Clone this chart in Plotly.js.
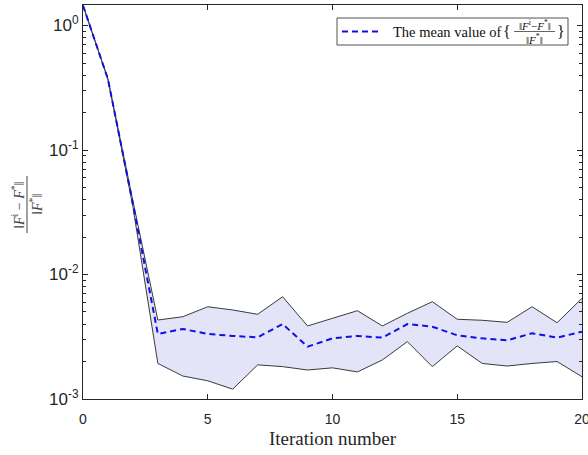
<!DOCTYPE html>
<html>
<head>
<meta charset="utf-8">
<script src="https://cdn.plot.ly/plotly-3.0.1.min.js"></script>
<style>html,body{margin:0;padding:0;background:#fff;}#chart{width:588px;height:455px;}</style>
</head>
<body>
<div id="chart"></div>
<script>
// Iteration numbers
const iterations = [0,1,2,3,4,5,6,7,8,9,10,11,12,13,14,15,16,17,18,19,20];
// Upper envelope of relative error
const upperVals = [1.45,0.371,0.039,0.00431,0.00458,0.00551,0.00519,0.00479,0.00663,0.00386,0.00445,0.00512,0.00386,0.00488,0.00605,0.00437,0.00429,0.00413,0.00551,0.00410,0.00644];
// Lower envelope of relative error
const lowerVals = [1.45,0.371,0.035,0.00193,0.00153,0.00140,0.00120,0.00188,0.00182,0.00171,0.00178,0.00165,0.00206,0.00289,0.00182,0.00267,0.00193,0.00184,0.00193,0.00200,0.00151];
// Mean value
const meanVals = [1.45,0.371,0.037,0.00333,0.00365,0.00333,0.00321,0.00313,0.00400,0.00263,0.00307,0.00321,0.00311,0.00400,0.00381,0.00325,0.00307,0.00296,0.00337,0.00311,0.00347];

const xTickVals = [0,5,10,15,20];
const yTickVals = [0.001,0.01,0.1,1];
const yTickText = ['10<sup>-3</sup>','10<sup>-2</sup>','10<sup>-1</sup>','10<sup>0</sup>'];
const legendLabel = 'The mean value of';

const W = 588, H = 455, L = 83, R = 582, T = 5, B = 399;
const px = v => (v - L) / (R - L);
const py = v => (B - v) / (B - T);

const edge = '#3a3a3a';
const traces = [
  {x: iterations, y: upperVals, type: 'scatter', mode: 'lines', line: {color: edge, width: 1}, showlegend: false, hoverinfo: 'skip'},
  {x: iterations, y: lowerVals, type: 'scatter', mode: 'lines', line: {color: edge, width: 1}, fill: 'tonexty', fillcolor: '#e4e4f8', showlegend: false, hoverinfo: 'skip'},
  {x: iterations, y: meanVals, type: 'scatter', mode: 'lines', line: {color: '#1010e6', width: 2, dash: '6px,4px'}, name: legendLabel, showlegend: false}
];

const serif = 'Liberation Serif, Times New Roman, serif';
const sans = 'Liberation Sans, Arial, sans-serif';
const axisCol = '#262626';
const layout = {
  width: W, height: H,
  margin: {l: L, r: W - R, t: T, b: H - B},
  paper_bgcolor: '#fff', plot_bgcolor: '#fff',
  showlegend: false,
  xaxis: {
    range: [0, 20], tickmode: 'array', tickvals: xTickVals,
    ticks: 'inside', ticklen: 5, tickcolor: axisCol, mirror: 'ticks',
    showline: true, linecolor: axisCol, linewidth: 1,
    showgrid: false, zeroline: false, ticklabeloverflow: 'allow', ticklabelstandoff: 7,
    tickfont: {family: sans, size: 14, color: axisCol},
    title: {text: 'Iteration number', font: {family: serif, size: 19, color: axisCol}, standoff: 5}
  },
  yaxis: {
    type: 'log', range: [-3, 0.165], tickmode: 'array', tickvals: yTickVals, ticktext: yTickText,
    ticks: 'inside', ticklen: 5, tickcolor: axisCol, mirror: 'ticks',
    minor: {dtick: 'D1', ticks: 'inside', ticklen: 3, tickcolor: axisCol, showgrid: false},
    showline: true, linecolor: axisCol, linewidth: 1,
    showgrid: false, zeroline: false, ticklabeloverflow: 'allow',
    tickfont: {family: sans, size: 17, color: axisCol}
  },
  shapes: [
    // y-axis title fraction bar
    {type: 'line', xref: 'paper', yref: 'paper', x0: px(27), x1: px(27), y0: py(233), y1: py(176), line: {color: '#444', width: 1}},
    // legend box
    {type: 'rect', xref: 'paper', yref: 'paper', x0: px(337), x1: px(568), y0: py(45), y1: py(18), fillcolor: '#fff', line: {color: axisCol, width: 0.8}},
    // legend sample
    {type: 'line', xref: 'paper', yref: 'paper', x0: px(342), x1: px(382), y0: py(31.5), y1: py(31.5), line: {color: '#1010e6', width: 2, dash: '6px,4px'}},
    // legend fraction bar
    {type: 'line', xref: 'paper', yref: 'paper', x0: px(514), x1: px(555), y0: py(31.5), y1: py(31.5), line: {color: '#222', width: 0.7}}
  ],
  annotations: [
    {xref: 'paper', yref: 'paper', x: px(18), y: py(205), text: '‖<i>F</i><sup>i</sup> − <i>F</i><sup>*</sup>‖', textangle: -90, showarrow: false, font: {family: serif, size: 14, color: '#444'}, xanchor: 'center', yanchor: 'middle'},
    {xref: 'paper', yref: 'paper', x: px(36), y: py(205), text: '‖<i>F</i><sup>*</sup>‖', textangle: -90, showarrow: false, font: {family: serif, size: 14, color: '#444'}, xanchor: 'center', yanchor: 'middle'},
    {xref: 'paper', yref: 'paper', x: px(391), y: py(31.5), text: legendLabel, showarrow: false, font: {family: serif, size: 14.5, color: '#111'}, xanchor: 'left', yanchor: 'middle'},
    {xref: 'paper', yref: 'paper', x: px(507), y: py(31.5), text: '{', showarrow: false, font: {family: serif, size: 16, color: '#111'}, xanchor: 'center', yanchor: 'middle'},
    {xref: 'paper', yref: 'paper', x: px(534.5), y: py(25), text: '‖<i>F</i><sup>i</sup>−<i>F</i><sup>*</sup>‖', showarrow: false, font: {family: serif, size: 11, color: '#111'}, xanchor: 'center', yanchor: 'middle'},
    {xref: 'paper', yref: 'paper', x: px(534.5), y: py(38.5), text: '‖<i>F</i><sup>*</sup>‖', showarrow: false, font: {family: serif, size: 11, color: '#111'}, xanchor: 'center', yanchor: 'middle'},
    {xref: 'paper', yref: 'paper', x: px(561), y: py(31.5), text: '}', showarrow: false, font: {family: serif, size: 16, color: '#111'}, xanchor: 'center', yanchor: 'middle'}
  ]
};

Plotly.newPlot('chart', traces, layout, {staticPlot: true, displayModeBar: false});
</script>
</body>
</html>
